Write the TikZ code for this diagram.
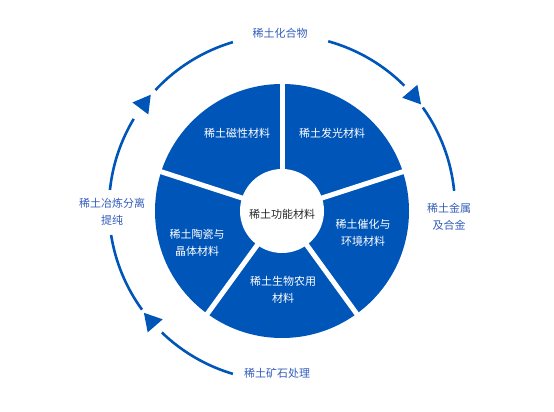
\documentclass[tikz,border=0pt]{standalone}
\usepackage{fontspec}
\newfontfamily\cjk{Noto Sans CJK SC}
\usetikzlibrary{shapes,positioning,calc}
\definecolor{wheelblue}{RGB}{0,85,184}
\definecolor{labelblue}{RGB}{50,92,186}
\definecolor{coretext}{RGB}{40,40,40}

\begin{document}
\begin{tikzpicture}
  [x=1pt,y=1pt,
   sectorT/.style={text=white,font=\cjk\fontsize{11}{17}\selectfont,align=center},
   cycleT/.style={text=labelblue,font=\cjk\fontsize{11}{17}\selectfont,align=center},
   coreT/.style={text=coretext,font=\cjk\fontsize{11}{17}\selectfont},
   arrowTri/.style={regular polygon,regular polygon sides=3,fill=wheelblue,
                    inner sep=0pt,minimum size=23pt},
   ringLine/.style={wheelblue,line width=2.6pt}]

  \useasboundingbox (0,0) rectangle (554,412);
  \coordinate (ring) at (282,204);
  \coordinate (hub)  at (282,201);

  % wheel
  \fill[wheelblue] (hub) circle (127);
  \foreach \a in {90,18,-54,-126,162}
    \draw[white,line width=5pt] (hub) -- ++(\a:128);
  \fill[white] (hub) circle (42);

  % cycle ring
  \foreach \s/\e in {253.5/226,216/189,174/149,137/106.5,74.5/45,35.5/5.7}
    \draw[ringLine] ($(ring)+(\s:173)$) arc[start angle=\s,end angle=\e,radius=173];
  \foreach \a/\n in {221/triOre,143/triSmelt,40.5/triCompound}
    \node[arrowTri,rotate=\a-180] (\n) at ($(ring)+(\a:173)$) {};

  \node at (280,379) [cycleT] (compound) {稀土化合物};
  \node at (449,195) [cycleT] (metal)    {稀土金属\\及合金};
  \node at (277,39)  [cycleT] (ore)      {稀土矿石处理};
  \node at (112,200) [cycleT] (smelt)    {稀土冶炼分离\\提纯};

  \node at (237,279) [sectorT] (magnet) {稀土磁性材料};
  \node at (332,279) [sectorT] (glow)   {稀土发光材料};
  \node at (363,179) [sectorT] (catal)  {稀土催化与\\环境材料};
  \node at (283,122) [sectorT] (bio)    {稀土生物农用\\材料};
  \node at (197,169) [sectorT] (ceram)  {稀土陶瓷与\\晶体材料};
  \node at (282,198) [coreT]   (core)   {稀土功能材料};
\end{tikzpicture}
\end{document}
